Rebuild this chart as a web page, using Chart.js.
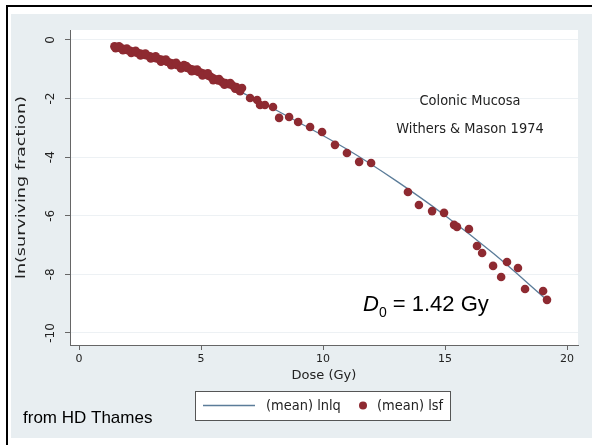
<!DOCTYPE html>
<html>
<head>
<meta charset="utf-8">
<script src="https://cdn.jsdelivr.net/npm/chart.js@4.4.1/dist/chart.umd.min.js"></script>
<style>
html, body { margin: 0; padding: 0; background: #fff; }
#wrap { width: 592px; height: 445px; }
</style>
</head>
<body>
<div id="wrap"><canvas id="graph" width="592" height="445"></canvas></div>
<script>
// surviving fraction
const doseLsf = [1.45,1.52,1.60,1.68,1.76,1.84,1.92,2.00,2.10,2.20,2.30,2.40,2.50,2.60,2.70,2.80,2.90,3.00,3.10,3.20,
  3.30,3.40,3.50,3.60,3.70,3.80,3.90,4.00,4.10,4.20,4.30,4.40,4.50,4.60,4.70,4.80,4.90,5.00,5.10,5.20,
  5.30,5.40,5.50,5.60,5.70,5.85,6.00,6.15,6.30,6.45,6.55,6.68,
  1.50,1.64,1.80,1.96,2.14,2.32,2.52,2.72,2.94,3.14,3.36,3.56,3.78,3.98,4.18,4.40,4.62,4.84,5.06,5.28,
  5.50,5.74,5.96,6.20,6.40,6.60,
  7.01,7.30,7.42,7.62,7.95,8.20,8.61,8.98,9.47,9.96,10.49,10.98,11.48,11.97,13.48,13.93,14.47,14.96,
  15.37,15.49,15.98,16.31,16.52,16.97,17.30,17.54,17.99,18.28,19.02,19.18];
const lsf = [-0.22,-0.24,-0.26,-0.27,-0.29,-0.31,-0.33,-0.35,-0.37,-0.40,-0.42,-0.44,-0.46,-0.48,-0.51,-0.53,-0.56,-0.58,-0.61,-0.63,
  -0.66,-0.68,-0.71,-0.74,-0.77,-0.80,-0.82,-0.85,-0.88,-0.91,-0.86,-0.95,-0.97,-1.00,-1.02,-1.06,-1.09,-1.12,-1.15,-1.18,
  -1.22,-1.26,-1.31,-1.35,-1.38,-1.43,-1.47,-1.51,-1.56,-1.61,-1.70,-1.64,
  -0.28,-0.22,-0.35,-0.29,-0.44,-0.37,-0.53,-0.46,-0.63,-0.56,-0.74,-0.67,-0.86,-0.78,-0.97,-0.89,-1.07,-1.01,-1.21,-1.14,
  -1.37,-1.33,-1.53,-1.47,-1.66,-1.75,
  -1.98,-2.05,-2.22,-2.22,-2.29,-2.66,-2.63,-2.80,-2.97,-3.14,-3.58,-3.86,-4.16,-4.20,-5.19,-5.63,-5.84,-5.90,
  -6.31,-6.38,-6.45,-7.03,-7.27,-7.71,-8.09,-7.58,-7.78,-8.50,-8.57,-8.87];

// fitted LQ curve
const doseLq = [1.45,3,5,7,9,11,13,15,17,19.18];
const lnlq = [-0.24,-0.60,-1.15,-1.93,-2.81,-3.74,-4.81,-5.99,-7.30,-8.88];

const xTicks = [0,5,10,15,20];
const yTicks = [0,-2,-4,-6,-8,-10];
const legendLabels = ['(mean) lnlq', '(mean) lsf'];
const notes = ['Colonic Mucosa', 'Withers & Mason 1974'];
const credit = 'from HD Thames';

const lineColor = '#5b7c99';
const dotColor = '#8e2a31';
const stata = 'DejaVu Sans';

const bgPlugin = {
  id: 'bg',
  beforeDraw(chart) {
    const c = chart.ctx, a = chart.chartArea;
    c.save();
    c.fillStyle = '#fff';
    c.fillRect(0, 0, chart.width, chart.height);
    c.fillStyle = '#e8eef1';
    c.fillRect(11, 14, chart.width - 11, 438 - 14);
    c.fillStyle = '#000';
    c.fillRect(6, 5, chart.width - 6, 2);
    c.fillRect(6, 5, 2, chart.height - 5);
    c.fillStyle = '#fff';
    c.fillRect(a.left, a.top, a.right - a.left, a.bottom - a.top);
    c.restore();
  }
};

function stretchText(c, txt, x, y, sy) {
  c.save();
  c.translate(x, y);
  c.scale(1, sy);
  c.fillText(txt, 0, 0);
  c.restore();
}

const textPlugin = {
  id: 'texts',
  afterDraw(chart) {
    const c = chart.ctx, ys = chart.scales.y;
    c.save();
    c.fillStyle = '#222';

    // y tick labels, turned like Stata does
    c.font = '12px ' + stata;
    c.textAlign = 'center';
    c.textBaseline = 'middle';
    ys.ticks.forEach(t => {
      c.save();
      c.translate(51, ys.getPixelForValue(t.value));
      c.rotate(-Math.PI / 2);
      c.fillText(String(t.value), 0, 0);
      c.restore();
    });

    // y title
    c.font = '13px ' + stata;
    c.save();
    c.translate(22, (chart.chartArea.top + chart.chartArea.bottom) / 2);
    c.rotate(-Math.PI / 2);
    c.scale(1.35, 1);
    c.fillText('ln(surviving fraction)', 0, 0);
    c.restore();

    // notes
    c.font = '13px ' + stata;
    stretchText(c, notes[0], 470, 101, 1.1);
    stretchText(c, notes[1], 470, 129, 1.1);

    // D0 label
    c.textAlign = 'left';
    c.textBaseline = 'alphabetic';
    c.fillStyle = '#000';
    c.font = 'italic 22px "Liberation Sans"';
    c.fillText('D', 363, 311);
    let x = 363 + c.measureText('D').width;
    c.font = '14px "Liberation Sans"';
    c.fillText('0', x, 317);
    x += c.measureText('0').width;
    c.font = '22px "Liberation Sans"';
    c.fillText(' = 1.42 Gy', x, 311);

    // legend
    c.fillStyle = '#fff';
    c.fillRect(195, 391, 255, 29);
    c.strokeStyle = '#555';
    c.lineWidth = 1;
    c.strokeRect(195.5, 391.5, 255, 29);
    c.strokeStyle = lineColor;
    c.lineWidth = 1.3;
    c.beginPath();
    c.moveTo(203, 405.5);
    c.lineTo(255, 405.5);
    c.stroke();
    c.fillStyle = dotColor;
    c.beginPath();
    c.arc(363, 405.5, 4, 0, Math.PI * 2);
    c.fill();
    c.fillStyle = '#222';
    c.font = '13px ' + stata;
    c.textBaseline = 'middle';
    stretchText(c, legendLabels[0], 266, 406, 1.1);
    stretchText(c, legendLabels[1], 377, 406, 1.1);

    // credit
    c.fillStyle = '#000';
    c.textBaseline = 'alphabetic';
    c.font = '17px "Liberation Sans"';
    c.fillText(credit, 23, 423);
    c.restore();
  }
};

const ct1 = document.getElementById('graph').getContext('2d');
const myChart = new Chart(ct1, {
  type: 'scatter',
  data: {
    datasets: [{
      label: legendLabels[0],
      data: doseLq.map((d, i) => ({x: d, y: lnlq[i]})),
      showLine: true,
      borderColor: lineColor,
      borderWidth: 1.3,
      pointRadius: 0,
      tension: 0.4,
      order: 1
    }, {
      label: legendLabels[1],
      data: doseLsf.map((d, i) => ({x: d, y: lsf[i]})),
      backgroundColor: dotColor,
      borderColor: dotColor,
      borderWidth: 0,
      pointRadius: 4.3,
      order: 0
    }]
  },
  options: {
    responsive: false,
    animation: false,
    layout: { padding: { left: 0, top: 30, right: 14, bottom: 62 } },
    plugins: {
      legend: { display: false },
      tooltip: { enabled: false }
    },
    scales: {
      x: {
        type: 'linear',
        min: -0.37,
        max: 20.45,
        afterBuildTicks: s => { s.ticks = xTicks.map(v => ({value: v})); },
        afterFit: s => { s.height = 38; },
        ticks: { font: { family: stata, size: 11 }, color: '#222', padding: 3 },
        grid: { drawOnChartArea: false, tickLength: 5, tickColor: '#666' },
        border: { color: '#666', width: 1 },
        title: { display: true, text: 'Dose (Gy)', color: '#222', font: { family: stata, size: 13 }, padding: { top: 0, bottom: 0 } }
      },
      y: {
        min: -10.41,
        max: 0.34,
        afterBuildTicks: s => { s.ticks = yTicks.map(v => ({value: v})); },
        afterFit: s => { s.width = 70; },
        ticks: { display: false },
        grid: { color: '#edf1f4', tickLength: 5, tickColor: '#666' },
        border: { color: '#666', width: 1 }
      }
    }
  },
  plugins: [bgPlugin, textPlugin]
});
</script>
</body>
</html>
